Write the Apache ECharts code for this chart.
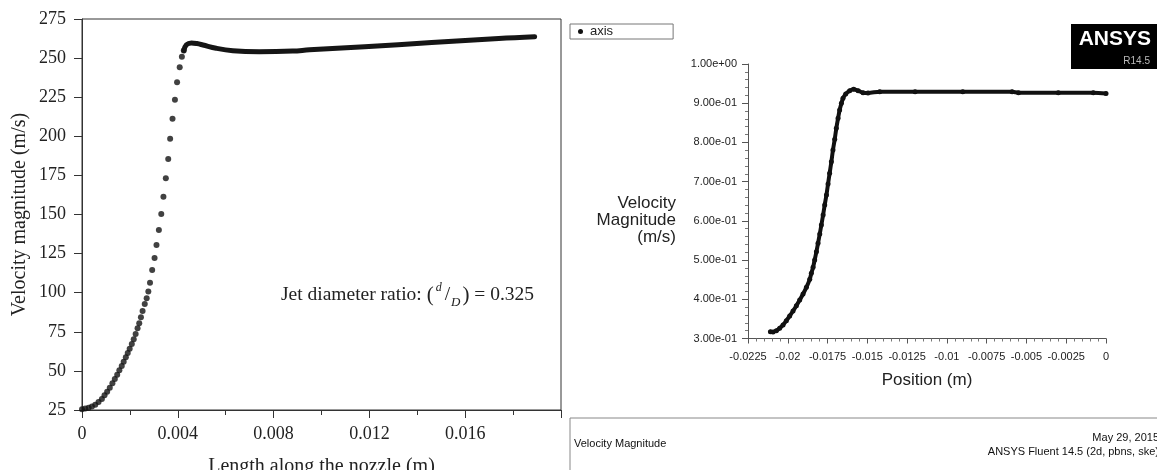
<!DOCTYPE html>
<html>
<head>
<meta charset="utf-8">
<script src="https://cdn.jsdelivr.net/npm/echarts@6/dist/echarts.min.js"></script>
<style>
html,body{margin:0;padding:0;background:#fff;}
#chart{width:1157px;height:470px;}
</style>
</head>
<body>
<div id="chart"></div>
<script>
// ---------- Left chart (paper figure) ----------
const leftXTickLabels = [0, 0.004, 0.008, 0.012, 0.016];
const leftYTicks = [25, 50, 75, 100, 125, 150, 175, 200, 225, 250, 275];
// rising part: individual dots
const leftRiseX = [0, 0.000137, 0.000276, 0.000414, 0.000553, 0.000691, 0.00083, 0.00094, 0.00105, 0.00116,
  0.00127, 0.00137, 0.00147, 0.00156, 0.00166, 0.00174, 0.00183, 0.00191, 0.00199, 0.00208,
  0.00216, 0.00224, 0.00232, 0.00239, 0.00246, 0.00253, 0.00262, 0.0027, 0.00277, 0.00284,
  0.00293, 0.00303, 0.00311, 0.00321, 0.00331, 0.0034, 0.0035, 0.0036, 0.00368, 0.00378,
  0.00388, 0.00397, 0.00408, 0.00417, 0.00425];
const leftRiseY = [25.4, 25.9, 26.5, 27.3, 28.4, 30.1, 32.0, 34.4, 36.7, 39.3,
  42.1, 44.8, 47.6, 50.4, 53.1, 55.9, 58.7, 61.4, 64.2, 67.2,
  70.2, 73.6, 77.2, 80.4, 84.3, 88.3, 92.8, 96.4, 100.7, 106.4,
  114.5, 122.2, 130.5, 140.1, 150.3, 161.4, 173.1, 185.5, 198.5, 211.3,
  223.4, 234.5, 244.1, 250.9, 254.8];
// plateau part: dense dots forming a thick line
const leftPlateauX = [0.00425, 0.00436, 0.00457, 0.0048, 0.00505, 0.0056, 0.0063, 0.0074, 0.0088, 0.0095, 0.0118, 0.0146, 0.0174, 0.0189];
const leftPlateauY = [254.8, 258.5, 259.7, 259.3, 258.4, 256.3, 254.7, 254.1, 254.5, 255.3, 257.3, 259.9, 262.6, 263.7];

// ---------- Right chart (ANSYS Fluent plot) ----------
const rightXTicks = [-0.0225, -0.02, -0.0175, -0.015, -0.0125, -0.01, -0.0075, -0.005, -0.0025, 0];
const rightYTicks = [0.3, 0.4, 0.5, 0.6, 0.7, 0.8, 0.9, 1.0];
const rightX = [-0.02109, -0.02093, -0.02072, -0.02051, -0.0203, -0.02009, -0.01988, -0.01967, -0.01946, -0.01925,
  -0.01904, -0.01883, -0.01862, -0.01852, -0.01841, -0.01831, -0.0182, -0.0181, -0.01799, -0.01789,
  -0.01778, -0.01768, -0.01757, -0.01747, -0.01737, -0.01726, -0.01716, -0.01705, -0.01695, -0.01684,
  -0.01674, -0.01663, -0.01653, -0.01636, -0.01611, -0.01586, -0.01558, -0.01527, -0.01496, -0.01422,
  -0.012, -0.009, -0.0059, -0.0055, -0.003, -0.0008, 0];
const rightY = [0.3174, 0.3166, 0.320, 0.326, 0.3344, 0.3455, 0.3574, 0.3701, 0.3837, 0.3982,
  0.4135, 0.4305, 0.4509, 0.4662, 0.4815, 0.5002, 0.5214, 0.5427, 0.5665, 0.5894,
  0.6149, 0.6404, 0.6659, 0.694, 0.7212, 0.7509, 0.7807, 0.8079, 0.8359, 0.8614,
  0.8827, 0.8997, 0.9124, 0.9235, 0.932, 0.9354, 0.932, 0.9269, 0.9262, 0.9294,
  0.9294, 0.9294, 0.9292, 0.9270, 0.9268, 0.9265, 0.925];

const zip = (a, b) => a.map((v, i) => [v, b[i]]);
const serif = 'Liberation Serif';
const sans = 'Liberation Sans';

function sci(v) {
  const s = Number(v).toExponential(2);
  return s.replace(/e([+-])(\d+)$/, (m, sg, d) => 'e' + sg + (d.length < 2 ? '0' + d : d));
}
function near(list, v) { return list.some(t => Math.abs(t - v) < 1e-9); }

const chart = echarts.init(document.getElementById('chart'), null, {renderer: 'canvas'});
chart.setOption({
  animation: false,
  backgroundColor: '#fff',
  legend: {
    data: [{name: 'axis', icon: 'circle'}],
    left: 570, top: 24,
    orient: 'horizontal',
    itemWidth: 5, itemHeight: 5, itemGap: 4,
    padding: [1, 60, 1, 8],
    borderColor: '#777', borderWidth: 1,
    textStyle: {fontFamily: sans, fontSize: 13, color: '#222', padding: [0, 0, 0, 2]},
    selectedMode: false
  },
  grid: [
    {left: 82, top: 19, width: 479, height: 391, show: true, borderColor: '#333', borderWidth: 1,
     containLabel: false, outerBoundsMode: 'none'},
    {left: 748, top: 64, width: 358, height: 274.5, containLabel: false, outerBoundsMode: 'none'}
  ],
  xAxis: [
    {
      gridIndex: 0, type: 'value', min: 0, max: 0.02, interval: 0.004,
      name: 'Length along the nozzle (m)', nameLocation: 'middle', nameGap: 47,
      nameTextStyle: {fontFamily: serif, fontSize: 20, color: '#222'},
      axisLine: {show: true, lineStyle: {color: '#333', width: 1}},
      axisTick: {show: true, inside: false, length: 8, lineStyle: {color: '#333'}},
      minorTick: {show: true, splitNumber: 2, length: 5, lineStyle: {color: '#333'}},
      splitLine: {show: false},
      axisLabel: {fontFamily: serif, fontSize: 18, color: '#222', margin: 15,
        formatter: v => near(leftXTickLabels, v) ? String(parseFloat(v.toFixed(4))) : ''}
    },
    {
      gridIndex: 1, type: 'value', min: -0.0225, max: 0, interval: 0.0025,
      name: 'Position (m)', nameLocation: 'middle', nameGap: 33,
      nameTextStyle: {fontFamily: sans, fontSize: 17, color: '#222'},
      axisLine: {show: true, onZero: false, lineStyle: {color: '#555', width: 1}},
      axisTick: {show: true, length: 5, lineStyle: {color: '#555'}},
      minorTick: {show: true, splitNumber: 5, length: 3, lineStyle: {color: '#777'}},
      splitLine: {show: false},
      axisLabel: {fontFamily: sans, fontSize: 11, color: '#222', margin: 13,
        formatter: v => near(rightXTicks, v) ? String(parseFloat(v.toFixed(4))) : ''}
    }
  ],
  yAxis: [
    {
      gridIndex: 0, type: 'value', min: 25, max: 275, interval: 25,
      name: 'Velocity magnitude (m/s)', nameLocation: 'middle', nameGap: 52,
      nameTextStyle: {fontFamily: serif, fontSize: 20, color: '#222'},
      axisLine: {show: true, lineStyle: {color: '#333', width: 1}},
      axisTick: {show: true, length: 8, lineStyle: {color: '#333'}},
      splitLine: {show: false},
      axisLabel: {fontFamily: serif, fontSize: 18, color: '#222', margin: 16,
        formatter: v => near(leftYTicks, v) ? String(v) : ''}
    },
    {
      gridIndex: 1, type: 'value', min: 0.3, max: 1.0, interval: 0.1,
      axisLine: {show: true, onZero: false, lineStyle: {color: '#555', width: 1}},
      axisTick: {show: true, length: 6, lineStyle: {color: '#555'}},
      minorTick: {show: true, splitNumber: 5, length: 3, lineStyle: {color: '#777'}},
      splitLine: {show: false},
      axisLabel: {fontFamily: sans, fontSize: 11, color: '#222', margin: 11,
        formatter: v => near(rightYTicks, v) ? sci(v) : ''}
    }
  ],
  series: [
    {
      name: 'rise', type: 'scatter', xAxisIndex: 0, yAxisIndex: 0,
      data: zip(leftRiseX, leftRiseY), symbol: 'circle', symbolSize: 6,
      itemStyle: {color: '#111'}, silent: true
    },
    {
      name: 'plateau', type: 'line', xAxisIndex: 0, yAxisIndex: 0,
      data: zip(leftPlateauX, leftPlateauY), smooth: 0.4, showSymbol: false,
      lineStyle: {color: '#151515', width: 5, cap: 'round', join: 'round'}, silent: true
    },
    {
      name: 'axis', type: 'line', xAxisIndex: 1, yAxisIndex: 1,
      data: zip(rightX, rightY), smooth: 0.3, showSymbol: true, symbol: 'circle', symbolSize: 5,
      itemStyle: {color: '#111'}, lineStyle: {color: '#111', width: 4, cap: 'round', join: 'round'}, silent: true
    }
  ],
  graphic: [
    {
      type: 'text', left: 281, top: 281, silent: true,
      style: {
        text: '{n|Jet diameter ratio: }{p|(}{sup|d}{n|/}{sub|D}{p|)}{n| = 0.325}',
        rich: {
          n: {fontFamily: serif, fontSize: 19.5, fill: '#222', lineHeight: 28, verticalAlign: 'middle'},
          p: {fontFamily: serif, fontSize: 21, fill: '#222', lineHeight: 28, verticalAlign: 'middle'},
          sup: {fontFamily: serif, fontSize: 12, fontStyle: 'italic', fill: '#222', verticalAlign: 'top', lineHeight: 28, padding: [1, 3, 0, 2]},
          sub: {fontFamily: serif, fontSize: 13, fontStyle: 'italic', fill: '#222', verticalAlign: 'bottom', lineHeight: 28, padding: [0, 2, 0, 1]}
        }
      }
    },
    {type: 'text', x: 676, y: 220, silent: true,
      style: {text: 'Velocity\nMagnitude\n(m/s)', fill: '#222', fontFamily: sans, fontSize: 17, lineHeight: 17, align: 'right', verticalAlign: 'middle'}},
    {type: 'rect', shape: {x: 1071, y: 24, width: 90, height: 45}, style: {fill: '#000'}, silent: true},
    {type: 'text', x: 1151, y: 39, silent: true,
      style: {text: 'ANSYS', fill: '#fff', fontFamily: sans, fontWeight: 'bold', fontSize: 21, align: 'right', verticalAlign: 'middle'}},
    {type: 'text', x: 1150, y: 61, silent: true,
      style: {text: 'R14.5', fill: '#bbb', fontFamily: sans, fontSize: 10, align: 'right', verticalAlign: 'middle'}},
    {type: 'rect', shape: {x: 570, y: 418, width: 600, height: 80}, style: {fill: 'none', stroke: '#888', lineWidth: 1}, silent: true},
    {type: 'text', x: 574, y: 444, silent: true,
      style: {text: 'Velocity Magnitude', fill: '#111', fontFamily: sans, fontSize: 11, verticalAlign: 'middle'}},
    {type: 'text', x: 1159, y: 438, silent: true,
      style: {text: 'May 29, 2015', fill: '#111', fontFamily: sans, fontSize: 11, align: 'right', verticalAlign: 'middle'}},
    {type: 'text', x: 1159, y: 452, silent: true,
      style: {text: 'ANSYS Fluent 14.5 (2d, pbns, ske)', fill: '#111', fontFamily: sans, fontSize: 11, align: 'right', verticalAlign: 'middle'}}
  ]
});
</script>
</body>
</html>
